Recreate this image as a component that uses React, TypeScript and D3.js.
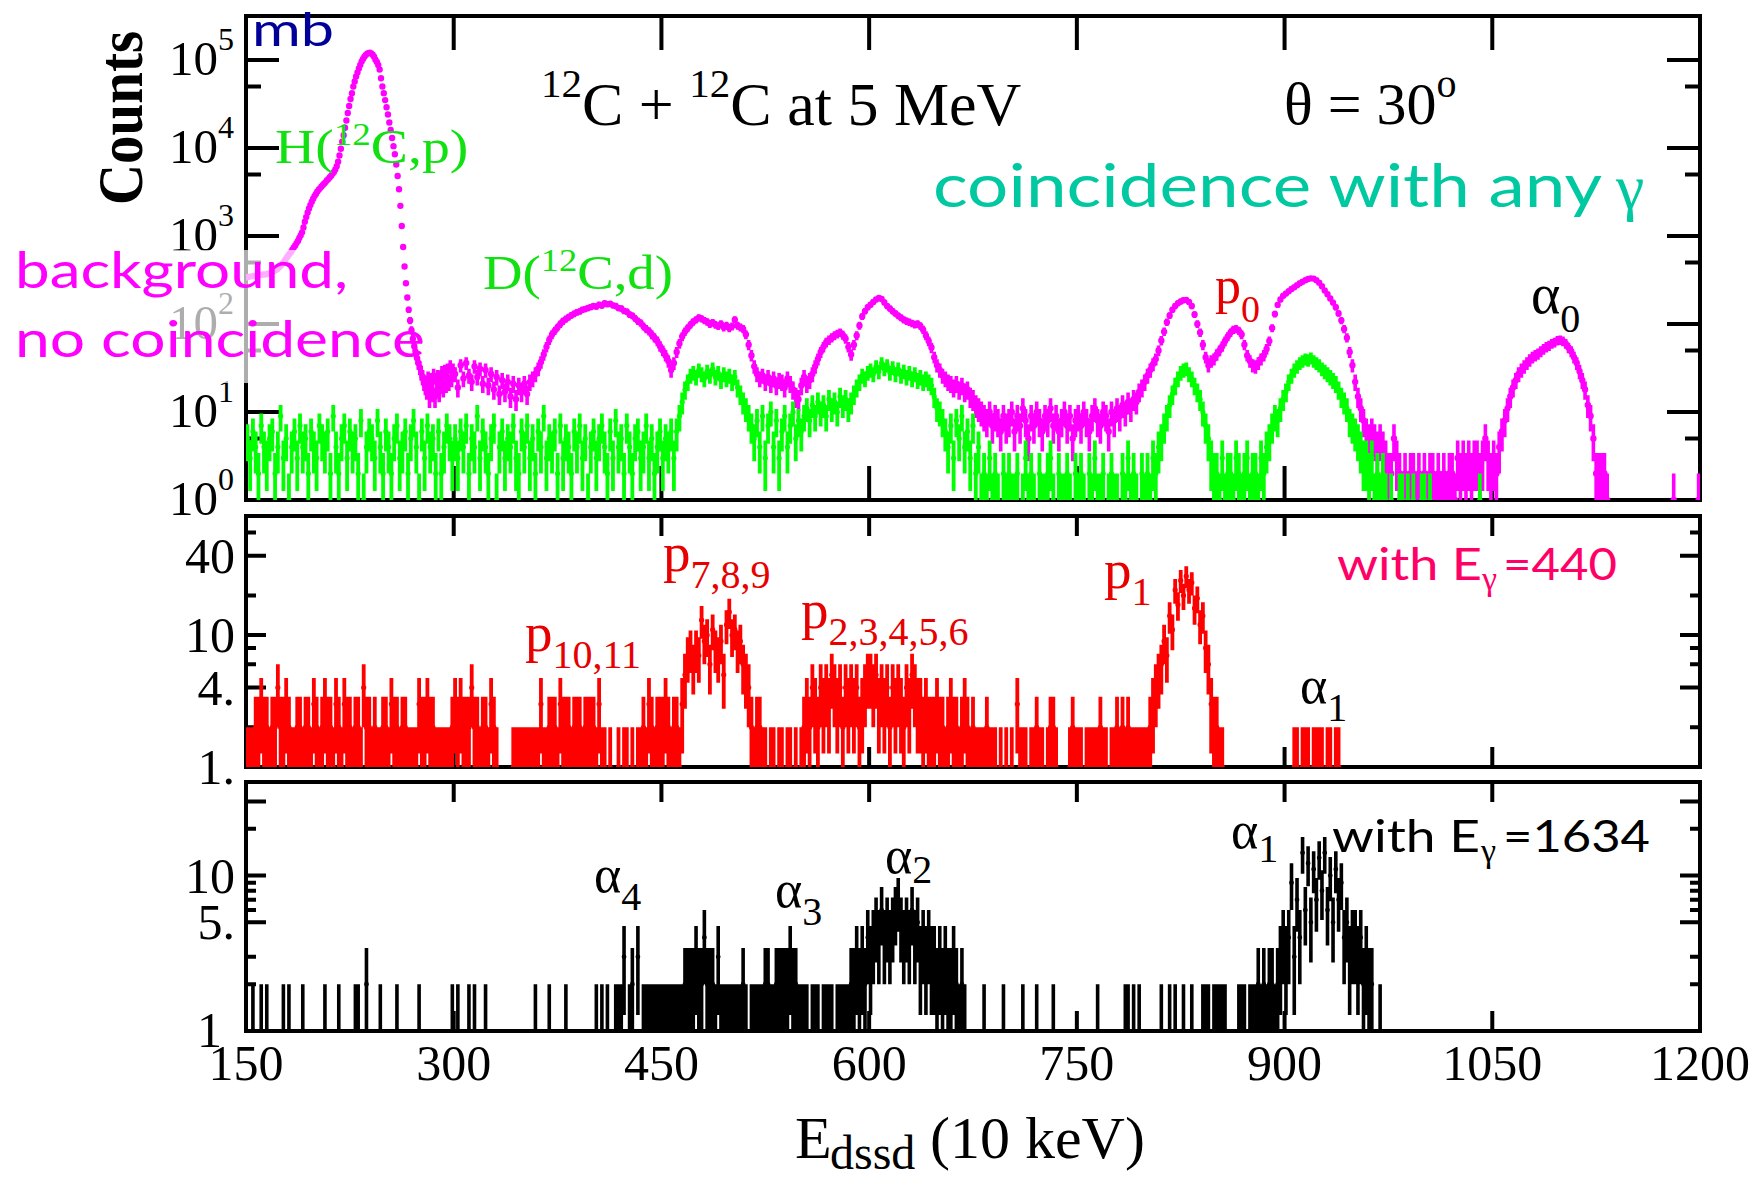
import React from "react";
import * as d3 from "d3";

// ---------------- spectra (counts per bin) ----------------
// background without coincidence: 1-channel bins, channels 150-299
const bgFineStart = 150;
const bgFine = [
  340, 342, 345, 348, 350, 352, 350, 355, 358, 360,
  360, 362, 365, 365, 368, 372, 375, 380, 385, 392,
  400, 410, 420, 435, 450, 470, 490, 510, 540, 570,
  600, 630, 660, 700, 740, 780, 830, 880, 950, 1020,
  1100, 1250, 1450, 1650, 1850, 2050, 2250, 2450, 2650, 2850,
  3000, 3200, 3350, 3500, 3650, 3800, 3950, 4100, 4300, 4450,
  4650, 4850, 5100, 5350, 5700, 6200, 7000, 8200, 9800, 11800,
  14000, 17000, 20500, 25000, 30000, 36000, 42000, 50000, 57000, 65000,
  72000, 80000, 88000, 96000, 103000, 109000, 114000, 118000, 120000, 121000,
  119000, 115000, 109000, 101000, 95000, 88000, 78000, 62000, 50000, 42000,
  35000, 29000, 24000, 19500, 16000, 13000, 10500, 8500, 6500, 4800,
  3400, 2200, 1300, 750, 450, 290, 200, 145, 110, 85,
  68, 56, 48, 41, 36, 32, 28, 25, 22, 20,
  18, 24, 15, 23, 17, 26, 15, 22, 25, 17,
  24, 28, 19, 29, 21, 30, 22, 33, 24, 30,
];

// background without coincidence: 2-channel bins, channels 300-1199
const bgCoarseStart = 300;
const bgCoarse = [
  27, 19, 34, 24, 36, 26, 22, 33, 25, 31, 21, 30, 20, 27, 18, 25, 16, 23, 17, 22, 15, 21, 14, 20, 17,
  21, 16, 22, 24, 27, 31, 37, 45, 55, 66, 76, 84, 92, 100, 108, 114, 120, 126, 131, 136, 139, 145, 148, 152, 156,
  160, 158, 166, 162, 172, 168, 170, 163, 160, 152, 150, 141, 138, 128, 124, 116, 108, 103, 94, 88, 83, 76, 70, 64, 56,
  50, 44, 38, 30, 36, 48, 60, 72, 82, 90, 98, 106, 112, 118, 115, 110, 106, 100, 104, 98, 95, 100, 92, 96, 90,
  94, 112, 96, 92, 88, 76, 58, 44, 33, 27, 24, 26, 22, 25, 21, 24, 20, 23, 22, 19, 24, 21, 18, 15, 14,
  20, 25, 21, 23, 27, 33, 40, 48, 55, 62, 66, 70, 74, 77, 80, 75, 68, 55, 45, 58, 74, 96, 122, 140, 155,
  166, 178, 190, 198, 192, 176, 160, 150, 140, 132, 124, 118, 112, 108, 105, 102, 99, 100, 95, 86, 74, 64, 54, 42, 34,
  30, 26, 24, 22, 21, 19, 21, 18, 20, 17, 18, 15, 14, 12, 11, 10, 9, 8, 10, 7, 9, 8, 6, 9, 7,
  8, 10, 6, 9, 7, 11, 8, 5, 9, 7, 10, 8, 6, 9, 8, 11, 7, 9, 6, 8, 10, 7, 9, 5, 8,
  9, 7, 10, 8, 6, 9, 11, 8, 7, 10, 9, 6, 10, 8, 11, 9, 12, 10, 13, 11, 14, 13, 17, 19, 22,
  26, 30, 35, 40, 50, 65, 82, 105, 125, 145, 160, 172, 180, 186, 188, 178, 160, 128, 100, 80, 58, 42, 34, 38, 40,
  45, 50, 56, 64, 72, 80, 86, 88, 84, 76, 58, 44, 38, 34, 33, 36, 40, 44, 52, 64, 90, 130, 165, 190, 210,
  222, 236, 250, 262, 276, 290, 302, 315, 325, 330, 328, 315, 295, 268, 240, 218, 195, 175, 155, 132, 110, 88, 70, 48, 34,
  22, 15, 11, 8, 6, 5, 6, 5, 4, 5, 4, 3, 2, 2, 5, 3, 2, 1, 2, 1, 2, 2, 1, 2, 1,
  2, 1, 2, 2, 1, 2, 1, 2, 1, 2, 2, 1, 3, 2, 3, 2, 3, 2, 3, 3, 2, 3, 5, 3, 2,
  3, 2, 4, 6, 8, 11, 15, 19, 23, 27, 30, 33, 36, 39, 42, 44, 46, 49, 52, 55, 57, 60, 62, 65, 66,
  64, 60, 54, 49, 42, 36, 29, 23, 18, 12, 9, 5, 2, 2, 2, 2, 1, 0, 0, 0, 0, 0, 0, 0, 0,
  0, 0, 0, 0, 0, 0, 0, 0, 0, 0, 0, 0, 0, 0, 0, 1, 0, 0, 0, 0, 0, 0, 0, 0, 1,
];

// coincidence with any gamma: 2-channel bins from channel 150
const anyGammaStart = 150;
const anyGamma = [
  5, 3, 6, 4, 2, 7, 4, 3, 5, 6, 2, 4, 9, 3, 5, 1, 4, 6, 3, 7, 4, 5, 2, 6, 4,
  3, 7, 5, 4, 6, 2, 9, 4, 2, 5, 7, 3, 6, 4, 5, 2, 8, 1, 4, 6, 5, 3, 8, 4, 2,
  6, 4, 2, 5, 7, 3, 4, 6, 2, 5, 8, 4, 1, 6, 3, 7, 4, 5, 2, 6, 2, 4, 7, 5, 3,
  5, 3, 6, 4, 7, 2, 5, 4, 9, 3, 6, 4, 2, 5, 7, 1, 4, 6, 3, 5, 4, 7, 3, 2, 6,
  4, 7, 3, 5, 2, 6, 4, 9, 3, 5, 4, 6, 2, 7, 3, 5, 4, 2, 6, 4, 7, 3, 5, 1, 4,
  6, 3, 5, 7, 4, 2, 6, 3, 8, 4, 5, 2, 7, 4, 2, 5, 6, 3, 4, 7, 3, 5, 2, 4, 6,
  3, 5, 4, 6, 3, 6, 9, 13, 18, 22, 26, 28, 25, 30, 27, 24, 29, 26, 31, 25, 28, 23, 27, 24, 26,
  22, 25, 19, 16, 13, 11, 9, 7, 5, 8, 4, 9, 3, 7, 10, 4, 8, 3, 6, 9, 4, 7, 10, 5, 8,
  6, 9, 11, 8, 12, 9, 13, 10, 12, 9, 14, 11, 13, 10, 15, 12, 14, 11, 13, 16, 19, 22, 26, 24, 28,
  30, 27, 33, 29, 36, 31, 34, 28, 32, 27, 31, 26, 29, 25, 28, 24, 27, 23, 25, 22, 24, 22, 20, 15, 11,
  10, 8, 6, 4, 7, 3, 8, 5, 9, 4, 6, 3, 7, 2, 4, 1, 2, 1, 3, 1, 2, 1, 0, 2, 1,
  2, 1, 1, 2, 0, 1, 3, 1, 2, 1, 0, 2, 1, 1, 2, 3, 1, 0, 2, 1, 1, 2, 1, 0, 2,
  1, 2, 1, 0, 2, 1, 3, 1, 1, 2, 0, 1, 2, 1, 1, 0, 2, 1, 3, 1, 2, 1, 0, 2, 1,
  2, 1, 3, 2, 4, 5, 7, 9, 12, 16, 20, 24, 28, 30, 31, 27, 24, 20, 17, 14, 10, 7, 5, 3, 2,
  2, 1, 3, 1, 2, 2, 1, 3, 2, 1, 2, 3, 1, 2, 2, 1, 3, 2, 4, 5, 7, 9, 8, 11, 14,
  17, 22, 26, 30, 33, 36, 38, 40, 39, 41, 38, 36, 34, 31, 29, 27, 25, 23, 21, 18, 15, 13, 11, 8, 7,
  6, 5, 4, 3, 3, 2, 3, 1, 2, 1, 2, 1, 0, 1, 0, 0, 1, 1, 0, 1, 0, 1, 0, 0, 1,
  1, 0, 1, 0, 0, 0, 0, 0, 0, 0, 0, 0, 0, 0, 0, 0, 0, 0, 0, 0, 1, 0, 0, 0, 0,
];

// coincidence with E_gamma = 440 keV: 2-channel bins from channel 150
const gamma440Start = 150;
const gamma440 = [
  1, 1, 1, 2, 2, 3, 2, 2, 1, 2, 2, 4, 2, 2, 3, 2, 1, 1, 2, 2, 1, 2, 2, 1, 3,
  2, 1, 2, 3, 2, 2, 1, 3, 2, 1, 3, 2, 2, 1, 2, 2, 1, 4, 2, 2, 1, 2, 1, 1, 2,
  2, 1, 3, 2, 2, 1, 2, 2, 1, 1, 1, 1, 3, 2, 2, 3, 2, 2, 1, 1, 1, 1, 1, 1, 2,
  3, 2, 3, 2, 2, 2, 4, 2, 2, 1, 2, 2, 1, 3, 2, 1, 0, 0, 0, 0, 0, 1, 1, 1, 1,
  1, 1, 1, 1, 1, 1, 3, 1, 1, 2, 2, 2, 1, 3, 2, 2, 2, 1, 2, 2, 2, 1, 2, 2, 2,
  2, 1, 3, 1, 1, 0, 1, 0, 0, 1, 0, 1, 1, 0, 1, 0, 1, 1, 2, 1, 3, 2, 1, 2, 2,
  2, 3, 2, 1, 2, 2, 1, 3, 5, 7, 8, 6, 8, 7, 13, 9, 10, 6, 11, 8, 7, 9, 5, 12, 15,
  10, 11, 8, 9, 6, 5, 4, 2, 1, 2, 2, 1, 1, 0, 1, 1, 0, 1, 1, 0, 1, 1, 0, 1, 0,
  1, 2, 3, 2, 4, 3, 2, 4, 3, 4, 3, 5, 4, 3, 4, 2, 4, 3, 4, 3, 4, 2, 3, 4, 5,
  5, 4, 5, 3, 4, 3, 4, 2, 4, 3, 4, 3, 2, 4, 3, 5, 4, 3, 3, 2, 3, 2, 2, 2, 3,
  2, 2, 1, 2, 3, 2, 2, 1, 2, 3, 2, 1, 2, 1, 1, 1, 1, 2, 1, 1, 1, 0, 1, 0, 1,
  0, 1, 0, 3, 1, 1, 1, 0, 1, 1, 2, 1, 1, 0, 1, 2, 2, 1, 0, 0, 0, 0, 1, 2, 1,
  1, 1, 0, 1, 1, 1, 1, 1, 2, 1, 1, 0, 1, 1, 2, 1, 2, 1, 2, 1, 1, 1, 1, 1, 1,
  1, 2, 3, 4, 5, 6, 9, 7, 14, 11, 22, 17, 26, 20, 28, 22, 25, 16, 19, 12, 14, 8, 6, 3, 2,
  2, 1, 1, 0, 0, 0, 0, 0, 0, 0, 0, 0, 0, 0, 0, 0, 0, 0, 0, 0, 0, 0, 0, 0, 0,
  0, 0, 0, 1, 1, 0, 1, 1, 1, 0, 1, 1, 1, 1, 0, 1, 1, 0, 1, 1, 0, 0, 0, 0, 0,
];

// coincidence with E_gamma = 1634 keV: 2-channel bins from channel 150
const gamma1634Start = 150;
const gamma1634 = [
  0, 0, 1, 0, 0, 1, 0, 1, 0, 0, 0, 0, 0, 1, 0, 1, 0, 0, 0, 0, 1, 0, 0, 0, 0,
  0, 0, 0, 1, 0, 0, 0, 0, 1, 0, 0, 0, 0, 0, 1, 1, 0, 0, 2, 0, 0, 0, 0, 1, 0,
  0, 0, 0, 0, 1, 0, 0, 0, 0, 0, 0, 0, 1, 0, 0, 0, 0, 0, 0, 0, 0, 0, 0, 0, 1,
  0, 1, 0, 0, 0, 1, 0, 1, 0, 0, 0, 1, 0, 0, 0, 0, 0, 0, 0, 0, 0, 0, 0, 0, 0,
  0, 0, 0, 0, 1, 0, 0, 0, 0, 1, 0, 0, 0, 0, 0, 1, 0, 0, 0, 0, 0, 0, 0, 0, 0,
  0, 1, 0, 1, 0, 1, 0, 0, 1, 1, 1, 3, 0, 1, 2, 0, 3, 0, 1, 1, 1, 1, 1, 1, 1,
  1, 1, 1, 1, 1, 1, 1, 1, 2, 2, 2, 2, 3, 2, 2, 4, 2, 2, 2, 1, 3, 1, 1, 1, 1,
  1, 1, 1, 1, 2, 1, 0, 1, 1, 1, 1, 1, 2, 2, 1, 1, 2, 2, 2, 2, 2, 3, 2, 2, 1,
  1, 1, 1, 0, 1, 1, 1, 0, 1, 1, 1, 1, 0, 1, 1, 1, 1, 1, 2, 2, 3, 2, 3, 2, 4,
  3, 4, 5, 4, 6, 4, 5, 4, 5, 6, 7, 5, 4, 5, 4, 6, 4, 5, 3, 4, 3, 4, 3, 3, 2,
  3, 2, 3, 2, 2, 3, 2, 1, 2, 1, 0, 0, 0, 0, 0, 0, 1, 0, 0, 0, 0, 0, 0, 1, 0,
  0, 0, 0, 0, 0, 1, 0, 0, 0, 0, 1, 0, 0, 0, 0, 0, 1, 0, 0, 0, 0, 0, 0, 0, 0,
  0, 0, 0, 0, 0, 0, 0, 1, 0, 0, 0, 0, 0, 0, 0, 0, 0, 1, 1, 0, 1, 0, 1, 0, 0,
  0, 0, 0, 0, 0, 1, 0, 0, 1, 0, 1, 0, 0, 1, 0, 0, 1, 0, 0, 0, 1, 1, 1, 0, 1,
  1, 1, 1, 1, 0, 0, 0, 0, 1, 1, 1, 0, 1, 1, 1, 2, 1, 2, 1, 2, 2, 1, 2, 3, 4,
  3, 4, 9, 3, 7, 4, 14, 6, 12, 5, 11, 7, 13, 8, 14, 6, 10, 5, 11, 7, 9, 4, 5, 3, 4,
  4, 3, 4, 2, 3, 2, 2, 0, 0, 1, 0, 0, 0, 0, 0, 0, 0, 0, 0, 0, 0, 0, 0, 0, 0,
];

// ---------------- axes ----------------
const xDomain = [150, 1200];
const xTickValues = [150, 300, 450, 600, 750, 900, 1050, 1200];
const topDomain = [1, Math.pow(10, 5.5)];
const topMajor = [1, 10, 100, 1000, 10000, 100000];
const topMinor = [5, 50, 500, 5000, 50000];
const topLabelExp = ["0", "1", "2", "3", "4", "5"];
const midDomain = [1, 80];
const midMajor = [4, 10, 40];
const midMinor = [2, 6, 8, 20, 60];
const midLabels = [
  { v: 40, t: "40" },
  { v: 10, t: "10" },
  { v: 4, t: "4." },
  { v: 1, t: "1." },
];
const botDomain = [1, 40];
const botMajor = [5, 10, 30];
const botMinor = [2, 3, 6, 7, 8, 9, 20];
const botLabels = [
  { v: 10, t: "10" },
  { v: 5, t: "5." },
];

const SERIF = "'Liberation Serif','Times New Roman',serif";
const SANS = "Lato,'Open Sans','Noto Sans',sans-serif";

const C_BG = "#ff00ff";
const C_ANY = "#00ff00";
const C_440 = "#ff0000";
const C_1634 = "#000000";

const LEFT = 246;
const RIGHT = 1700;

type Bin = { x: number; n: number };

function toBins(counts: number[], start: number, width: number): Bin[] {
  return counts.map((n, i) => ({ x: start + width * i + width / 2, n }));
}

// vertical sqrt(N) error bars plus a round marker at N
function errorPaths(bins: Bin[], x: (v: number) => number, y: (v: number) => number, r: number) {
  let bars = "";
  let dots = "";
  for (const b of bins) {
    if (b.n <= 0) continue;
    const s = Math.sqrt(b.n);
    const cx = x(b.x);
    const y1 = y(Math.max(b.n - s, 0.5));
    const y2 = y(b.n + s);
    bars += `M${cx.toFixed(2)},${y1.toFixed(2)}V${y2.toFixed(2)}`;
    const cy = y(b.n);
    dots += `M${(cx - r).toFixed(2)},${cy.toFixed(2)}a${r},${r} 0 1,0 ${2 * r},0a${r},${r} 0 1,0 ${-2 * r},0`;
  }
  return { bars, dots };
}

function Series({ bins, x, y, color, r, sw }: any) {
  const { bars, dots } = errorPaths(bins, x, y, r);
  return (
    <g>
      <path d={bars} stroke={color} strokeWidth={sw} fill="none" />
      <path d={dots} fill={color} stroke="none" />
    </g>
  );
}

function Frame({ x, y, top, bottom, xLen, major, minor, yLen, yMinorLen }: any) {
  let d = "";
  for (const t of xTickValues) {
    if (t === xDomain[0] || t === xDomain[1]) continue;
    const px = x(t);
    d += `M${px},${top}v${xLen}M${px},${bottom}v${-xLen}`;
  }
  for (const t of major) {
    const py = y(t);
    d += `M${LEFT},${py}h${yLen}M${RIGHT},${py}h${-yLen}`;
  }
  for (const t of minor) {
    const py = y(t);
    d += `M${LEFT},${py}h${yMinorLen}M${RIGHT},${py}h${-yMinorLen}`;
  }
  return (
    <g>
      <path d={d} stroke="#000" strokeWidth={4} fill="none" />
      <rect x={LEFT} y={top} width={RIGHT - LEFT} height={bottom - top} fill="none" stroke="#000" strokeWidth={4} />
    </g>
  );
}

export default function App() {
  const x = d3.scaleLinear().domain(xDomain).range([LEFT, RIGHT]);
  const yTop = d3.scaleLog().domain(topDomain).range([500, 16]).clamp(true);
  const yMid = d3.scaleLog().domain(midDomain).range([767, 516]).clamp(true);
  const yBot = d3.scaleLog().domain(botDomain).range([1031, 782]).clamp(true);

  const bgBins = [...toBins(bgFine, bgFineStart, 1), ...toBins(bgCoarse, bgCoarseStart, 2)];
  const anyBins = toBins(anyGamma, anyGammaStart, 2);
  const g440Bins = toBins(gamma440, gamma440Start, 2);
  const g1634Bins = toBins(gamma1634, gamma1634Start, 2);

  return (
    <svg
      width={1756}
      height={1179}
      viewBox="0 0 1756 1179"
      style={{ position: "absolute", left: 0, top: 0, background: "#fff" }}
    >
      <defs>
        <clipPath id="clipTop">
          <rect x={LEFT} y={16} width={RIGHT - LEFT} height={484} />
        </clipPath>
        <clipPath id="clipMid">
          <rect x={LEFT} y={516} width={RIGHT - LEFT} height={251} />
        </clipPath>
        <clipPath id="clipBot">
          <rect x={LEFT} y={782} width={RIGHT - LEFT} height={249} />
        </clipPath>
      </defs>
      <rect width={1756} height={1179} fill="#fff" />

      {/* frames and ticks */}
      <Frame x={x} y={yTop} top={16} bottom={500} xLen={34} major={topMajor} minor={topMinor} yLen={33} yMinorLen={15} />
      <Frame x={x} y={yMid} top={516} bottom={767} xLen={20} major={midMajor} minor={midMinor} yLen={20} yMinorLen={10} />
      <Frame x={x} y={yBot} top={782} bottom={1031} xLen={20} major={botMajor} minor={botMinor} yLen={20} yMinorLen={10} />

      {/* tick labels */}
      <g fontFamily={SERIF} fill="#000">
        {topMajor.map((v, i) => (
          <text key={v} x={234} y={yTop(v) + 15} fontSize={49} textAnchor="end">
            10
            <tspan fontSize={32} dy={-25}>
              {topLabelExp[i]}
            </tspan>
          </text>
        ))}
        {midLabels.map((l) => (
          <text key={l.t} x={235} y={yMid(l.v) + 17} fontSize={50} textAnchor="end">
            {l.t}
          </text>
        ))}
        {botLabels.map((l) => (
          <text key={l.t} x={235} y={yBot(l.v) + 17} fontSize={50} textAnchor="end">
            {l.t}
          </text>
        ))}
        <text x={222} y={yBot(1) + 16} fontSize={50} textAnchor="end">
          1
        </text>
        {xTickValues.map((t) => (
          <text key={t} x={x(t)} y={1080} fontSize={50} textAnchor="middle">
            {t}
          </text>
        ))}
      </g>

      {/* spectra */}
      <g clipPath="url(#clipTop)">
        <Series bins={bgBins} x={x} y={yTop} color={C_BG} r={3.2} sw={3.6} />
        <Series bins={anyBins} x={x} y={yTop} color={C_ANY} r={2.6} sw={3.8} />
      </g>
      <g clipPath="url(#clipMid)">
        <Series bins={g440Bins} x={x} y={yMid} color={C_440} r={2.6} sw={3.8} />
      </g>
      <g clipPath="url(#clipBot)">
        <Series bins={g1634Bins} x={x} y={yBot} color={C_1634} r={2.4} sw={3.6} />
      </g>

      {/* translucent box behind the background legend */}
      <rect x={0} y={250} width={362} height={133} fill="#fff" opacity={0.68} />

      {/* axis titles */}
      <text
        transform="translate(142,118) rotate(-90) scale(1,1.12)"
        fontFamily={SERIF}
        fontWeight="bold"
        fontSize={57}
        textAnchor="middle"
      >
        Counts
      </text>
      <g fontFamily={SERIF} fill="#000">
        <text x={795} y={1158} fontSize={60}>E</text>
        <text x={830} y={1169} fontSize={48}>dssd</text>
        <text x={930} y={1158} fontSize={60}>(10 keV)</text>
      </g>

      {/* headings */}
      <g fontFamily={SERIF} fill="#000">
        <text x={541} y={125} fontSize={62}>
          <tspan fontSize={41} dy={-28}>12</tspan>
          <tspan dy={28}>C + </tspan>
          <tspan fontSize={41} dy={-28}>12</tspan>
          <tspan dy={28}>C at 5 MeV</tspan>
        </text>
        <text x={1284} y={124} fontSize={60}>
          θ = 30
          <tspan fontSize={40} dy={-27}>o</tspan>
        </text>
      </g>
      <text x={252} y={46} fill="#000099" fontFamily={SANS} fontSize={46} textLength={82} lengthAdjust="spacingAndGlyphs">
        mb
      </text>
      <text x={933} y={207} fill="#00c8a0" fontFamily={SANS} fontSize={60} textLength={669} lengthAdjust="spacingAndGlyphs">
        coincidence with any
      </text>
      <text x={1616} y={208} fill="#00c8a0" fontFamily={SERIF} fontSize={64}>
        γ
      </text>

      {/* background legend */}
      <g fill={C_BG} fontFamily={SANS} fontSize={50}>
        <text x={15} y={288} textLength={333} lengthAdjust="spacingAndGlyphs">
          background,
        </text>
        <text x={15} y={357} textLength={410} lengthAdjust="spacingAndGlyphs">
          no coincidence
        </text>
      </g>

      {/* reaction labels */}
      <g fill="#11e011" fontFamily={SERIF} fontSize={48}>
        <text transform="translate(275,163) scale(1.16,1)">
          H(
          <tspan fontSize={32} dy={-18}>12</tspan>
          <tspan dy={18}>C,p)</tspan>
        </text>
        <text transform="translate(483,289) scale(1.14,1)">
          D(
          <tspan fontSize={32} dy={-18}>12</tspan>
          <tspan dy={18}>C,d)</tspan>
        </text>
      </g>

      {/* peak labels */}
      <g fontFamily={SERIF}>
        <text x={1215} y={303} fill="#e80000" fontSize={52}>
          p<tspan fontSize={38} dy={19}>0</tspan>
        </text>
        <text x={1531} y={313} fill="#000" fontSize={56}>
          α<tspan fontSize={40} dy={19}>0</tspan>
        </text>

        <text x={525} y={651} fill="#e80000" fontSize={55}>
          p<tspan fontSize={40} dy={17}>10,11</tspan>
        </text>
        <text x={663} y={571} fill="#e80000" fontSize={55}>
          p<tspan fontSize={40} dy={17}>7,8,9</tspan>
        </text>
        <text x={801} y={628} fill="#e80000" fontSize={55}>
          p<tspan fontSize={40} dy={17}>2,3,4,5,6</tspan>
        </text>
        <text x={1104} y={588} fill="#e80000" fontSize={55}>
          p<tspan fontSize={40} dy={17}>1</tspan>
        </text>
        <text x={1300} y={703} fill="#000" fontSize={52}>
          α<tspan fontSize={40} dy={18}>1</tspan>
        </text>

        <text x={594} y={892} fill="#000" fontSize={52}>
          α<tspan fontSize={40} dy={18}>4</tspan>
        </text>
        <text x={775} y={907} fill="#000" fontSize={52}>
          α<tspan fontSize={40} dy={18}>3</tspan>
        </text>
        <text x={885} y={873} fill="#000" fontSize={52}>
          α<tspan fontSize={40} dy={10}>2</tspan>
        </text>
        <text x={1231} y={848} fill="#000" fontSize={52}>
          α<tspan fontSize={40} dy={14}>1</tspan>
        </text>
      </g>

      {/* gamma gate legends */}
      <g fill="#ff0066">
        <text x={1337} y={580} fontFamily={SANS} fontSize={44} textLength={145} lengthAdjust="spacingAndGlyphs">
          with E
        </text>
        <text x={1482} y={590} fontFamily={SERIF} fontSize={34}>
          γ
        </text>
        <text x={1503} y={580} fontFamily={SANS} fontSize={44} textLength={114} lengthAdjust="spacingAndGlyphs">
          =440
        </text>
      </g>
      <g fill="#000">
        <text x={1332} y={852} fontFamily={SANS} fontSize={44} textLength={148} lengthAdjust="spacingAndGlyphs">
          with E
        </text>
        <text x={1481} y={862} fontFamily={SERIF} fontSize={34}>
          γ
        </text>
        <text x={1503} y={852} fontFamily={SANS} fontSize={44} textLength={147} lengthAdjust="spacingAndGlyphs">
          =1634
        </text>
      </g>
    </svg>
  );
}
